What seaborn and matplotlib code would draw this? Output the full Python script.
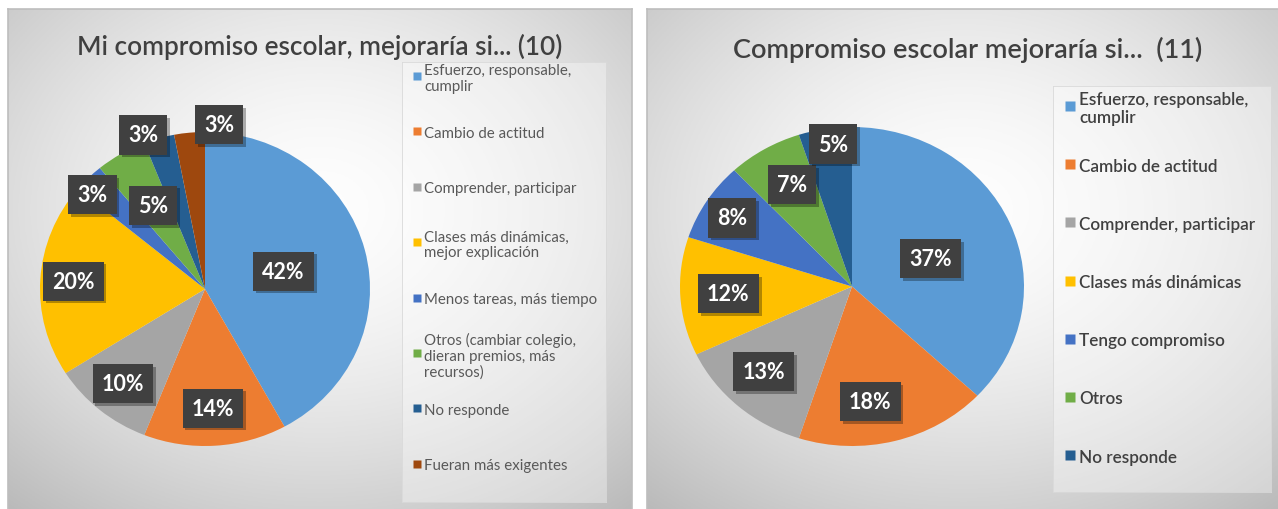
import numpy as np
import matplotlib
matplotlib.use('Agg')
import matplotlib.pyplot as plt
import matplotlib.patheffects as pe
import seaborn as sns

sns.set_theme(style='white')
plt.rcParams['font.family'] = ['Lato', 'DejaVu Sans']

# --- datos ---
titulo_10 = 'Mi compromiso escolar, mejoraría si... (10)'
cats_10 = ['Esfuerzo, responsable,\ncumplir', 'Cambio de actitud', 'Comprender, participar',
           'Clases más dinámicas,\nmejor explicación', 'Menos tareas, más tiempo',
           'Otros (cambiar colegio,\ndieran premios, más\nrecursos)', 'No responde',
           'Fueran más exigentes']
vals_10 = [42, 14, 10, 20, 3, 5, 3, 3]

titulo_11 = 'Compromiso escolar mejoraría si...  (11)'
cats_11 = ['Esfuerzo, responsable,\ncumplir', 'Cambio de actitud', 'Comprender, participar',
           'Clases más dinámicas', 'Tengo compromiso', 'Otros', 'No responde']
vals_11 = [37, 18, 13, 12, 8, 7, 5]

# colores tipo Office
office = sns.color_palette(['#5B9BD5', '#ED7D31', '#A5A5A5', '#FFC000',
                            '#4472C4', '#70AD47', '#255E91', '#9E480E'])

# posicion de etiquetas (distancia relativa y giro en grados)
dist_10 = [0.49, 0.76, 0.78, 0.80, 0.91, 0.62, 1.05, 1.05]
giro_10 = [-1, 0, 0, 0, 3.5, 0, 4.7, -10]
dist_11 = [0.49, 0.73, 0.74, 0.72, 0.82, 0.73, 0.90]
giro_11 = [-2.5, -6, -2.5, 0, 0.8, -2, -2]

W, H = 1278, 510
fig = plt.figure(figsize=(W / 100, H / 100), dpi=100)


def px(x0, y0, x1, y1):
    # rectangulo en pixeles (origen arriba-izquierda) -> coords de figura
    return [x0 / W, 1 - y1 / H, (x1 - x0) / W, (y1 - y0) / H]


def fondo(rect):
    ax = fig.add_axes(rect, zorder=0)
    yy, xx = np.mgrid[-1:1:200j, -1:1:260j]
    r = np.sqrt(xx ** 2 + (yy + 0.2) ** 2) / 1.5
    g = np.clip(0.995 - 0.25 * r ** 1.6, 0, 1)
    ax.imshow(np.dstack([g, g, g]), aspect='auto', extent=(0, 1, 0, 1))
    ax.set_xticks([])
    ax.set_yticks([])
    for s in ax.spines.values():
        s.set_color('#bdbdbd')
        s.set_linewidth(1.2)
    return ax


def torta(rect, vals, dist, giro):
    ax = fig.add_axes(rect, zorder=2)
    wedges, _ = ax.pie(vals, colors=office[:len(vals)], startangle=90,
                       counterclock=False, wedgeprops=dict(linewidth=0))
    ax.set_aspect('auto')
    ax.set_xlim(-1, 1)
    ax.set_ylim(-1, 1)
    for w, v, d, g in zip(wedges, vals, dist, giro):
        ang = np.deg2rad((w.theta1 + w.theta2) / 2 + g)
        t = ax.text(d * np.cos(ang), d * np.sin(ang), f'{v}%', ha='center', va='center',
                    fontsize=15.5, fontweight='bold', color='white', zorder=4,
                    bbox=dict(boxstyle='square,pad=0.42', fc='#404040', ec='none'))
        t.get_bbox_patch().set_path_effects(
            [pe.withSimplePatchShadow(offset=(2, -2), shadow_rgbFace='black', alpha=0.3)])
    return ax


def leyenda(box, cats, first, step, sq_x, tx_x, fs, weight, color, sq):
    x0, y0, x1, y1 = box
    ax = fig.add_axes(px(x0, y0, x1, y1), zorder=1)
    ax.set_xlim(0, x1 - x0)
    ax.set_ylim(y1 - y0, 0)
    ax.set_facecolor((1, 1, 1, 0.35))
    ax.set_xticks([])
    ax.set_yticks([])
    for s in ax.spines.values():
        s.set_color((0.85, 0.85, 0.85))
        s.set_linewidth(0.6)
    for i, c in enumerate(cats):
        y = first + i * step
        ax.plot([sq_x], [y], marker='s', ms=sq, color=office[i], mec='none')
        ax.text(tx_x, y, c, ha='left', va='center_baseline', fontsize=fs,
                fontweight=weight, color=color, linespacing=1.15)
    return ax


# panel izquierdo
fondo(px(8, 10, 632, 512))
torta(px(40, 133, 370, 447), vals_10, dist_10, giro_10)
fig.text(320 / W, 1 - 47 / H, titulo_10, ha='center', va='center',
         fontsize=18.8, color='#404040', fontweight='semibold')
leyenda((402, 63, 606, 503), cats_10, 14, 55.4, 15, 22, 10.8, 'normal', '#595959', 6)

# panel derecho
fondo(px(647, 10, 1280, 512))
torta(px(680, 128, 1024, 447), vals_11, dist_11, giro_11)
fig.text(968 / W, 1 - 50 / H, titulo_11, ha='center', va='center',
         fontsize=19.5, color='#404040', fontweight='semibold')
leyenda((1053, 87, 1271, 493), cats_11, 20, 58.2, 16.5, 26, 12.3, 'semibold', '#404040', 7)

fig.savefig('out.png', dpi=100)
